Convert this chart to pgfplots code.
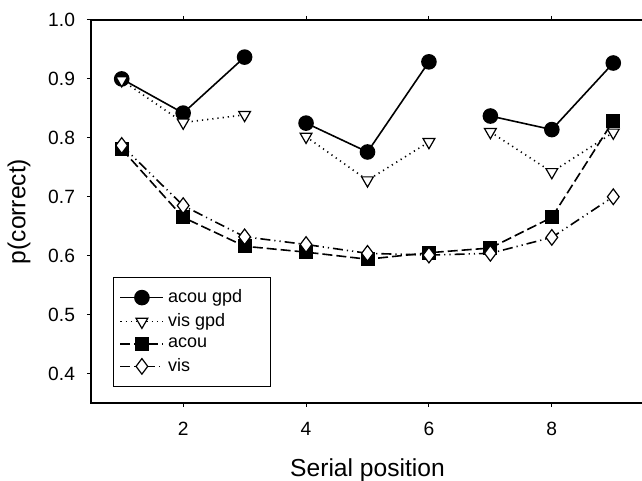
\documentclass[border=0pt]{standalone}
\usepackage{fontspec}
\setmainfont{Liberation Sans}
\usepackage{pgfplots}
\pgfplotsset{compat=1.18}

\begin{document}
\begin{tikzpicture}
\begin{axis}[
  scale only axis,
  width=276.5pt, height=191.5pt,
  xmin=0.5, xmax=9.5, ymin=0.35, ymax=1.0,
  xtick={2,4,6,8},
  ytick={0.4,0.5,0.6,0.7,0.8,0.9,1.0},
  /pgf/number format/assume math mode=true,
  y tick label style={font=\fontsize{9.6pt}{11pt}\selectfont, xshift=-2.5pt,
    /pgf/number format/fixed, /pgf/number format/fixed zerofill,
    /pgf/number format/precision=1},
  x tick label style={font=\fontsize{9.6pt}{11pt}\selectfont, yshift=-4pt},
  tick align=outside,
  major tick length=2pt,
  tick style={line width=0.5pt, black},
  axis line style={line width=0.7pt},
  xlabel={Serial position},
  ylabel={p(correct)},
  label style={font=\fontsize{12.3pt}{14pt}\selectfont},
  xlabel style={yshift=-4.5pt},
  ylabel style={yshift=2pt},
  unbounded coords=jump,
  legend cell align=left,
  legend style={
    at={(rel axis cs:0.04,0.042)}, anchor=south west,
    draw=black, line width=0.5pt,
    font=\fontsize{9pt}{10pt}\selectfont,
    inner xsep=3pt, inner ysep=4pt,
    row sep=0pt,
  },
  legend image code/.code={%
    \draw[mark repeat=2, mark phase=2]
      plot coordinates {(0pt,0pt) (10.75pt,0pt) (21.5pt,0pt)};},
]
% grouped conditions: acoustic
\addplot[black, line width=0.8pt, mark=*, mark size=3.5pt,
  mark options={solid, fill=black}]
  coordinates {(1,0.900) (2,0.842) (3,0.937) (3.5,nan)
               (4,0.825) (5,0.776) (6,0.929) (6.5,nan)
               (7,0.837) (8,0.814) (9,0.927)};
\addlegendentry{acou gpd\hspace*{9pt}}
% grouped conditions: visual
\addplot[black, line width=0.8pt, dash pattern=on 0.6pt off 2pt,
  mark=triangle*, mark size=3.4pt,
  mark options={solid, fill=white, rotate=180, line width=0.6pt}]
  coordinates {(1,0.898) (2,0.826) (3,0.839) (3.5,nan)
               (4,0.802) (5,0.728) (6,0.793) (6.5,nan)
               (7,0.810) (8,0.742) (9,0.809)};
\addlegendentry{vis gpd}
% ungrouped: acoustic
\addplot[black, line width=0.8pt, dash pattern=on 5pt off 2pt,
  mark=square*, mark size=3.1pt, mark options={solid, fill=black}]
  coordinates {(1,0.781) (2,0.665) (3,0.616) (4,0.606) (5,0.594)
               (6,0.605) (7,0.613) (8,0.665) (9,0.829)};
\addlegendentry{acou}
% ungrouped: visual
\addplot[black, line width=0.8pt,
  dash pattern=on 5pt off 2pt on 0.6pt off 2pt on 0.6pt off 2pt,
  mark=diamond*, mark size=3.9pt,
  mark options={solid, fill=white, line width=0.6pt}]
  coordinates {(1,0.787) (2,0.685) (3,0.632) (4,0.619) (5,0.604)
               (6,0.601) (7,0.604) (8,0.631) (9,0.700)};
\addlegendentry{vis}
\end{axis}
\pgfresetboundingbox
\path ([shift={(-45.5pt,-39pt)}]current axis.south west)
  rectangle ([shift={(275.5pt,10pt)}]current axis.north west);
\end{tikzpicture}
\end{document}
